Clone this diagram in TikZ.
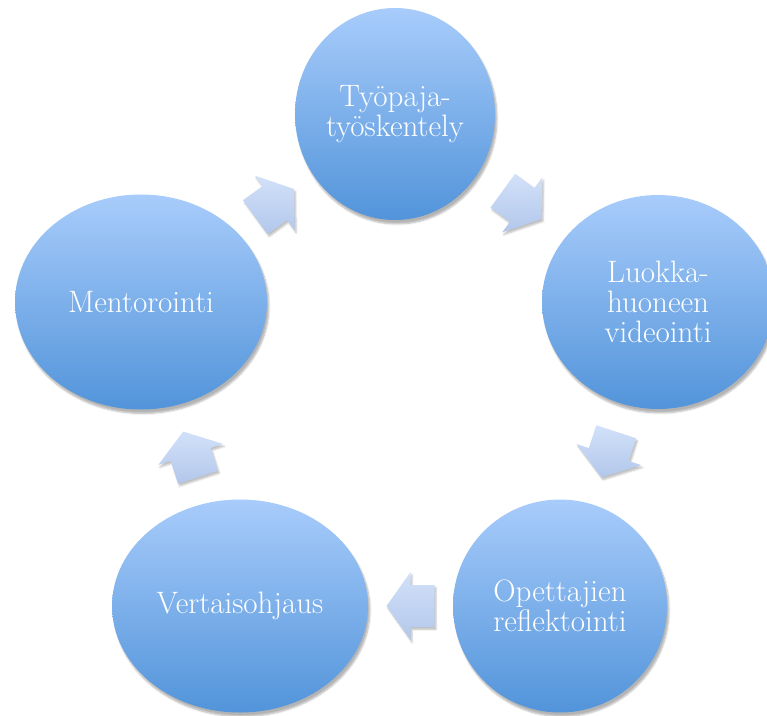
\documentclass[tikz,border=0pt]{standalone}
\usepackage{fontspec}
\usetikzlibrary{shapes.geometric,shadows.blur,calc}
\definecolor{ballTop}{RGB}{168,204,251}
\definecolor{ballBot}{RGB}{82,148,218}
\definecolor{arrTop}{RGB}{210,225,249}
\definecolor{arrBot}{RGB}{178,199,235}
\tikzset{
  ball/.style={ellipse, inner sep=0pt, top color=ballTop, bottom color=ballBot,
    text=white, align=center, font=\fontsize{31}{30}\selectfont,
    blur shadow={shadow xshift=2pt, shadow yshift=-4pt, shadow opacity=30, shadow blur steps=6}},
  blockarrow/.pic={
    \path[top color=arrTop, bottom color=arrBot,
      blur shadow={shadow xshift=1.5pt, shadow yshift=-2.5pt, shadow opacity=25, shadow blur steps=4}]
      (-24,-21) -- (0,-21) -- (0,-34) -- (24,0) -- (0,34) -- (0,21) -- (-24,21) -- cycle;}
}
% block arrow halfway between the rims of two nodes
\newcommand\cyclearrow[2]{%
  \pgfmathanglebetweenpoints{\pgfpointanchor{#1}{center}}{\pgfpointanchor{#2}{center}}%
  \pgfmathtruncatemacro\arrang{\pgfmathresult}%
  \pgfmathtruncatemacro\arrback{\arrang+180}%
  \path ($(#1.\arrang)!.5!(#2.\arrback)$) pic[rotate=\arrang] {blockarrow};}

\begin{document}
\begin{tikzpicture}[x=1pt,y=1pt]
    \useasboundingbox (0,0) rectangle (767,715);
    \node[ball, minimum width=200pt, minimum height=212pt] (tyopaja) at (395,601) {Työpaja-\\työskentely};
    \node[ball, minimum width=232pt, minimum height=214pt] (luokka) at (658,413) {Luokka-\\huoneen\\videointi};
    \node[ball, minimum width=214pt, minimum height=213pt] (reflekt) at (560,109) {Opettajien\\reflektointi};
    \node[ball, minimum width=256pt, minimum height=213pt] (vertais) at (240,109) {Vertaisohjaus};
    \node[ball, minimum width=252pt, minimum height=215pt] (mentor) at (141,413) {Mentorointi};
    \cyclearrow{tyopaja}{luokka}
    \cyclearrow{luokka}{reflekt}
    \cyclearrow{reflekt}{vertais}
    \cyclearrow{vertais}{mentor}
    \cyclearrow{mentor}{tyopaja}
\end{tikzpicture}
\end{document}
